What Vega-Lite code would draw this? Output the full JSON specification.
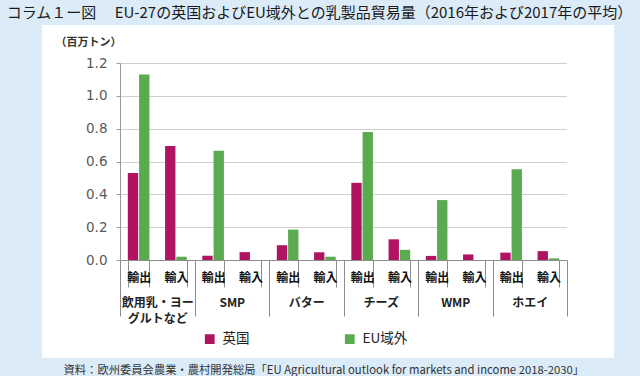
{
  "$schema": "https://vega.github.io/schema/vega-lite/v6.json",
  "width": 447,
  "height": 197,
  "autosize": {"type": "none"},
  "padding": {"left": 120, "top": 63, "right": 73, "bottom": 116},
  "background": "#dcebf8",
  "title": {
    "text": "コラム１ー図　 EU-27の英国およびEU域外との乳製品貿易量（2016年および2017年の平均）",
    "font": "Noto Sans CJK JP",
    "fontSize": 15,
    "fontWeight": "normal",
    "color": "#1a1a1a",
    "anchor": "middle",
    "frame": "group",
    "dx": -24,
    "offset": 4
  },
  "config": {
    "view": {"stroke": null, "fill": "white"}
  },
  "datasets": {
    "trade": [
      {"category": "飲用乳・ヨーグルトなど", "flow": "輸出", "key": "飲用乳・ヨーグルトなど 輸出", "region": "英国", "value": 0.53},
      {"category": "飲用乳・ヨーグルトなど", "flow": "輸出", "key": "飲用乳・ヨーグルトなど 輸出", "region": "EU域外", "value": 1.13},
      {"category": "飲用乳・ヨーグルトなど", "flow": "輸入", "key": "飲用乳・ヨーグルトなど 輸入", "region": "英国", "value": 0.695},
      {"category": "飲用乳・ヨーグルトなど", "flow": "輸入", "key": "飲用乳・ヨーグルトなど 輸入", "region": "EU域外", "value": 0.02},
      {"category": "SMP", "flow": "輸出", "key": "SMP 輸出", "region": "英国", "value": 0.026},
      {"category": "SMP", "flow": "輸出", "key": "SMP 輸出", "region": "EU域外", "value": 0.665},
      {"category": "SMP", "flow": "輸入", "key": "SMP 輸入", "region": "英国", "value": 0.048},
      {"category": "SMP", "flow": "輸入", "key": "SMP 輸入", "region": "EU域外", "value": 0.0},
      {"category": "バター", "flow": "輸出", "key": "バター 輸出", "region": "英国", "value": 0.09},
      {"category": "バター", "flow": "輸出", "key": "バター 輸出", "region": "EU域外", "value": 0.185},
      {"category": "バター", "flow": "輸入", "key": "バター 輸入", "region": "英国", "value": 0.047},
      {"category": "バター", "flow": "輸入", "key": "バター 輸入", "region": "EU域外", "value": 0.02},
      {"category": "チーズ", "flow": "輸出", "key": "チーズ 輸出", "region": "英国", "value": 0.47},
      {"category": "チーズ", "flow": "輸出", "key": "チーズ 輸出", "region": "EU域外", "value": 0.78},
      {"category": "チーズ", "flow": "輸入", "key": "チーズ 輸入", "region": "英国", "value": 0.126},
      {"category": "チーズ", "flow": "輸入", "key": "チーズ 輸入", "region": "EU域外", "value": 0.062},
      {"category": "WMP", "flow": "輸出", "key": "WMP 輸出", "region": "英国", "value": 0.025},
      {"category": "WMP", "flow": "輸出", "key": "WMP 輸出", "region": "EU域外", "value": 0.365},
      {"category": "WMP", "flow": "輸入", "key": "WMP 輸入", "region": "英国", "value": 0.034},
      {"category": "WMP", "flow": "輸入", "key": "WMP 輸入", "region": "EU域外", "value": 0.0},
      {"category": "ホエイ", "flow": "輸出", "key": "ホエイ 輸出", "region": "英国", "value": 0.045},
      {"category": "ホエイ", "flow": "輸出", "key": "ホエイ 輸出", "region": "EU域外", "value": 0.553},
      {"category": "ホエイ", "flow": "輸入", "key": "ホエイ 輸入", "region": "英国", "value": 0.054},
      {"category": "ホエイ", "flow": "輸入", "key": "ホエイ 輸入", "region": "EU域外", "value": 0.01}
    ]
  },
  "layer": [
    {
      "data": {"values": [{}]},
      "mark": {"type": "rect", "color": "white"},
      "encoding": {
        "x": {"datum": -0.1745, "type": "quantitative", "scale": {"domain": [0, 1], "nice": false, "zero": false}, "axis": null},
        "x2": {"datum": 1.1051},
        "y": {"datum": 1.4315, "type": "quantitative", "scale": {"domain": [0, 1.2], "nice": false}, "axis": null},
        "y2": {"datum": 1.2}
      }
    },
    {
      "data": {"values": [{}]},
      "mark": {"type": "rect", "color": "white"},
      "encoding": {
        "x": {"datum": -0.1745, "type": "quantitative", "scale": {"domain": [0, 1], "nice": false, "zero": false}, "axis": null},
        "x2": {"datum": 1.1051},
        "y": {"datum": 0, "type": "quantitative", "scale": {"domain": [0, 1.2], "nice": false}, "axis": null},
        "y2": {"datum": -0.597}
      }
    },
    {
      "data": {"values": [{}]},
      "mark": {"type": "rect", "color": "white"},
      "encoding": {
        "x": {"datum": -0.1745, "type": "quantitative", "scale": {"domain": [0, 1], "nice": false, "zero": false}, "axis": null},
        "x2": {"datum": 0},
        "y": {"datum": 1.2, "type": "quantitative", "scale": {"domain": [0, 1.2], "nice": false}, "axis": null},
        "y2": {"datum": 0}
      }
    },
    {
      "data": {"values": [{}]},
      "mark": {"type": "rect", "color": "white"},
      "encoding": {
        "x": {"datum": 1, "type": "quantitative", "scale": {"domain": [0, 1], "nice": false, "zero": false}, "axis": null},
        "x2": {"datum": 1.1051},
        "y": {"datum": 1.2, "type": "quantitative", "scale": {"domain": [0, 1.2], "nice": false}, "axis": null},
        "y2": {"datum": 0}
      }
    },
    {
      "data": {"name": "trade"},
      "mark": {"type": "bar", "opacity": 0},
      "encoding": {
        "x": {
          "field": "category", "type": "nominal", "sort": null,
          "scale": {"paddingInner": 0, "paddingOuter": 0},
          "axis": {
            "orient": "bottom", "zindex": 1, "domain": false,
            "ticks": true, "tickBand": "extent", "tickSize": 56, "tickColor": "#8c8c8c",
            "labelPadding": -19, "labelAngle": 0, "labelBaseline": "top",
            "labelFont": "Noto Sans CJK JP", "labelFontSize": 12, "labelFontWeight": "bold", "labelColor": "#222222",
            "labelLineHeight": 16,
            "labelExpr": "isString(datum.value) ? (datum.value == '飲用乳・ヨーグルトなど' ? ['飲用乳・ヨー', 'グルトなど'] : datum.value) : ''",
            "title": "資料：欧州委員会農業・農村開発総局「EU Agricultural outlook for markets and income 2018-2030」",
            "titleX": -57, "titleY": 110, "titleAlign": "left", "titleBaseline": "middle", "titleAnchor": "start",
            "titleFont": "Noto Sans CJK JP", "titleFontSize": 11.3, "titleFontWeight": "normal", "titleColor": "#333333",
            "titleLimit": 700
          }
        },
        "y": {
          "field": "value", "type": "quantitative", "stack": null,
          "scale": {"domain": [0, 1.2], "nice": false},
          "axis": {
            "orient": "left", "zindex": 1, "grid": false,
            "values": [0, 0.2, 0.4, 0.6, 0.8, 1.0, 1.2], "format": ".1f",
            "domain": true, "domainColor": "#999999",
            "ticks": true, "tickColor": "#999999", "tickSize": 4,
            "labelPadding": 9, "labelFont": "DejaVu Sans", "labelFontSize": 13.5, "labelColor": "#595959",
            "title": "（百万トン）", "titleAngle": 0, "titleX": -65, "titleY": -21,
            "titleAlign": "left", "titleBaseline": "middle",
            "titleFont": "Noto Sans CJK JP", "titleFontSize": 11, "titleFontWeight": "bold", "titleColor": "#333333"
          }
        }
      }
    },
    {
      "data": {"name": "trade"},
      "mark": {"type": "bar"},
      "encoding": {
        "x": {
          "field": "key", "type": "nominal", "sort": null,
          "scale": {"paddingInner": 0.42, "paddingOuter": 0.21},
          "axis": {
            "orient": "bottom", "zindex": 1, "domain": true, "domainColor": "#8c8c8c",
            "ticks": true, "tickBand": "extent", "tickSize": 27, "tickColor": "#8c8c8c",
            "labelPadding": -15, "labelAngle": 0, "labelBaseline": "top",
            "labelExpr": "isString(datum.value) ? slice(datum.value, -2) : ''",
            "labelFont": "Noto Sans CJK JP", "labelFontSize": 12, "labelFontWeight": "bold", "labelColor": "#111111",
            "title": null
          }
        },
        "xOffset": {"field": "region", "type": "nominal", "sort": ["英国", "EU域外"], "scale": {"paddingInner": 0.08}},
        "y": {
          "field": "value", "type": "quantitative",
          "scale": {"domain": [0, 1.2], "nice": false},
          "axis": {
            "orient": "left", "zindex": 0, "grid": true, "gridColor": "#cfcfcf", "gridWidth": 1,
            "values": [0.2, 0.4, 0.6, 0.8, 1.0, 1.2],
            "domain": false, "ticks": false, "labels": false, "title": null
          }
        },
        "color": {
          "field": "region", "type": "nominal",
          "scale": {"domain": ["英国", "EU域外"], "range": ["#b0135f", "#5aab4f"]},
          "legend": {
            "title": null, "orient": "none", "legendX": 83, "legendY": 269,
            "direction": "horizontal", "padding": 0,
            "symbolType": "square", "symbolSize": 95, "symbolStrokeWidth": 0,
            "labelFont": "Noto Sans CJK JP", "labelFontSize": 13.5, "labelColor": "#222222",
            "labelOffset": 6, "columnPadding": 93
          }
        }
      }
    }
  ],
  "resolve": {"scale": {"x": "independent", "xOffset": "independent"}, "axis": {"x": "independent", "y": "independent"}}
}
